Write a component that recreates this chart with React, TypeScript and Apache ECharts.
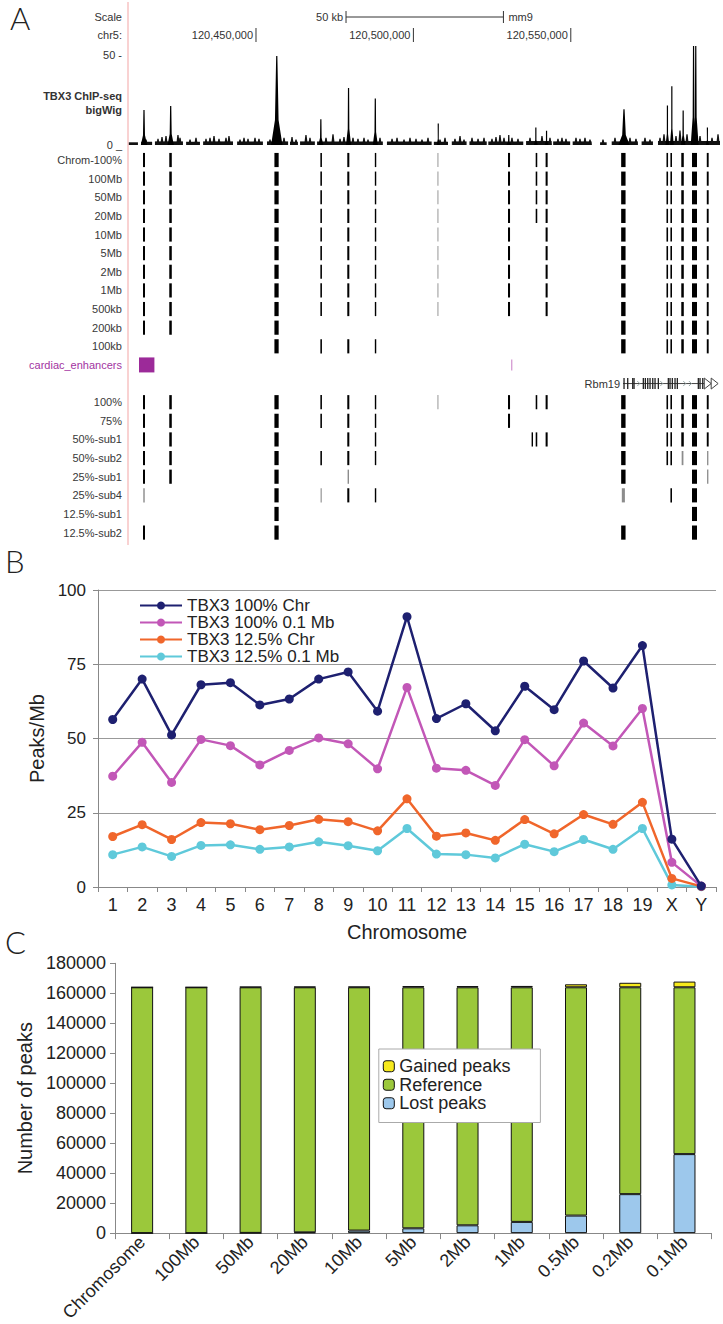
import React, { useEffect, useRef } from "react";
import * as echarts from "echarts";

// ---------- Panel A data (genomic positions in kb from chr5:120,400,000) ----------
const ORIGIN_BP = 120400000;
const X_MIN_KB = 9.34;
const X_MAX_KB = 197.4;
const POSITION_TICKS_KB = [50, 100, 150];
const SCALE_BAR_KB = [78.6, 128.6];

// ChIP-seq spikes: [centerKb, height, halfWidthKb]
const SIGNAL_PEAKS = [
  [14.42, 19.5, 1.0], [22.9, 21.6, 1.0], [56.6, 49.5, 1.8], [70.6, 14.3, 0.8],
  [79.4, 31.7, 0.8], [87.9, 25.8, 0.8], [107.9, 12, 0.5], [130.3, 5.5, 0.8],
  [138.9, 9.7, 0.6], [142.3, 7.9, 0.6], [166.9, 19.8, 1.8], [180.7, 22, 0.6],
  [182.1, 32.6, 0.6], [185.7, 19.2, 0.7], [189.0, 55, 0.9], [189.7, 55, 0.9],
  [193.4, 9.7, 0.5],
];
// background bumps: [kb, height]
const SIGNAL_BUMPS = [
  [15.06, 3], [18.87, 3.5], [20.14, 4.5], [21.41, 5], [25.22, 5.5], [25.86, 4], [29.04, 3],
  [30.94, 4], [34.12, 3.5], [35.39, 4], [36.66, 5], [38.25, 3.5], [40.47, 4], [41.42, 5],
  [44.92, 3], [46.19, 4], [47.46, 3.5], [49.68, 4], [50.95, 3.5], [54.45, 3], [58.9, 4],
  [61.44, 4.5], [62.71, 3], [65.88, 5.5], [67.15, 4], [72.24, 4], [74.46, 6], [76.7, 3.5],
  [77.95, 4.5], [80.81, 4], [82.4, 3.5], [84.31, 4], [85.58, 3], [89.39, 4], [93.21, 3.5],
  [94.8, 4], [97.02, 3], [98.92, 4], [100.83, 3.5], [102.73, 3], [104.64, 4], [108.45, 3],
  [110.04, 4], [113.21, 3.5], [114.81, 5], [116.08, 3], [118.62, 4], [120.53, 3.5],
  [122.43, 4], [124.97, 3.5], [126.24, 4.5], [127.51, 5.5], [128.78, 4], [131.32, 4],
  [133.23, 3.5], [137.04, 4], [140.85, 5], [143.39, 4], [145.93, 3.5], [147.2, 4],
  [148.47, 3.5], [151.65, 4], [152.92, 3.5], [154.51, 4], [156.1, 3], [160.23, 3],
  [164.04, 4], [168.81, 4], [170.71, 3.5], [173.57, 4], [175.16, 3], [178.34, 4],
  [179.61, 6], [183.42, 5], [184.69, 8], [186.92, 6], [191.05, 5], [194.86, 4], [196.77, 6],
];
// noise floor: [startKb, endKb, height]
const SIGNAL_FLOOR = [
  [9.6, 12.5, 1.5], [13.5, 17.0, 1.8], [17.9, 26.8, 2], [27.8, 32.2, 1.8], [33.2, 42.7, 2],
  [44.0, 52.2, 2], [53.5, 60.2, 2], [60.8, 63.3, 1.8], [64.0, 68.7, 2], [69.4, 90.3, 2],
  [91.6, 105.8, 2], [106.5, 111.0, 1.8], [112.2, 116.9, 2], [117.8, 123.3, 2],
  [123.8, 134.9, 2], [135.8, 143.9, 2.2], [144.4, 149.8, 2], [150.6, 156.6, 2],
  [159.3, 161.4, 1.5], [163.0, 171.3, 2], [172.5, 176.1, 2], [177.7, 197.4, 2.2],
];

// called peaks: [startKb, endKb]
const PEAKS = [
  [14.1, 14.75], [22.45, 23.25], [55.85, 57.2], [70.45, 70.95], [79.0, 79.65],
  [87.75, 88.2], [107.65, 107.95], [130.05, 130.7], [138.85, 139.35], [142.0, 142.65],
  [166.0, 167.4], [180.4, 180.9], [181.65, 182.15], [185.1, 185.9], [188.5, 190.1],
  [193.2, 193.8], [137.55, 138.0],
];

const TRACK_LABELS = [
  "Chrom-100%", "100Mb", "50Mb", "20Mb", "10Mb", "5Mb", "2Mb", "1Mb", "500kb", "200kb",
  "100kb", "cardiac_enhancers", "Rbm19", "100%", "75%", "50%-sub1", "50%-sub2",
  "25%-sub1", "25%-sub4", "12.5%-sub1", "12.5%-sub2",
];
const ALL16 = [0, 1, 2, 3, 4, 5, 6, 7, 8, 9, 10, 11, 12, 13, 14, 15];
const NO8 = [0, 1, 2, 3, 4, 5, 6, 7, 9, 10, 11, 12, 13, 14, 15];
const TRACK_PEAKS: number[][] = [
  ALL16, ALL16, ALL16, ALL16, NO8, NO8, NO8, NO8, NO8,
  [0, 1, 2, 10, 11, 12, 13, 14, 15],
  [2, 3, 4, 5, 10, 11, 12, 13, 14, 15],
  [], [],
  ALL16,
  [0, 1, 2, 3, 4, 5, 7, 10, 11, 12, 13, 14, 15],
  [0, 1, 2, 4, 5, 16, 8, 9, 10, 11, 12, 13, 14, 15],
  [0, 1, 2, 3, 4, 5, 10, 11, 12, 13, 14, 15],
  [0, 1, 2, 4, 10, 14, 15],
  [0, 2, 3, 4, 5, 10, 12, 14],
  [2, 14],
  [0, 2, 10, 14],
];
const TRACK_FAINT: number[][] = [
  [6], [6], [6], [6], [6], [6], [6], [6], [6], [], [], [], [], [6], [], [],
  [13, 15], [4, 15], [0, 3, 10], [], [],
];
const ENHANCERS = [[12.83, 17.73, 0], [131.1, 131.4, 1]];
const GENE = [166.6, 196.8];
const GENE_EXONS = [
  166.9, 168.07, 169.66, 170.08, 173.03, 173.67, 174.43, 175.16, 176.02, 176.75, 177.8,
  180.97, 181.51, 182.24, 183.1, 183.83, 190.5, 191.04, 191.9,
];
const GENE_INTRON_ARROWS = [171.6, 178.9, 186.2, 188.0];
const GENE_END_ARROWS = [[192.4, 194.6], [194.6, 196.8]];

// ---------- Panel B data ----------
const CHROMS = ["1","2","3","4","5","6","7","8","9","10","11","12","13","14","15","16","17","18","19","X","Y"];
const B_100_CHR = [56.4, 70.0, 51.2, 68.1, 68.8, 61.3, 63.3, 70.0, 72.4, 59.2, 91.0, 56.7, 61.7, 52.6, 67.6, 59.7, 76.1, 67.0, 81.3, 16.1, 0.3];
const B_100_01 = [37.3, 48.7, 35.2, 49.7, 47.6, 41.1, 46.0, 50.2, 48.2, 39.8, 67.2, 40.0, 39.3, 34.2, 49.6, 40.8, 55.2, 47.5, 60.1, 8.3, 0.3];
const B_125_CHR = [17.0, 21.0, 16.0, 21.7, 21.3, 19.3, 20.7, 22.8, 22.0, 18.9, 29.7, 17.1, 18.2, 15.7, 22.7, 17.9, 24.4, 21.1, 28.5, 2.9, 0.2];
const B_125_01 = [10.9, 13.5, 10.3, 14.0, 14.2, 12.7, 13.5, 15.2, 13.9, 12.2, 19.7, 11.1, 10.9, 9.8, 14.4, 11.9, 16.0, 12.7, 19.7, 0.7, 0.1];
const B_NAMES = ["TBX3 100% Chr", "TBX3 100% 0.1 Mb", "TBX3 12.5% Chr", "TBX3 12.5% 0.1 Mb"];
const B_COLORS = ["#1e2070", "#c257b7", "#f0662b", "#5fc9da"];

// ---------- Panel C data ----------
const RESOLUTIONS = ["Chromosome", "100Mb", "50Mb", "20Mb", "10Mb", "5Mb", "2Mb", "1Mb", "0.5Mb", "0.2Mb", "0.1Mb"];
const C_LOST = [0, 0, 150, 500, 1700, 3200, 5200, 7500, 11700, 26000, 52700];
const C_REFERENCE = [164000, 164000, 163850, 163500, 162300, 160800, 158800, 156500, 152300, 138000, 111300];
const C_GAINED = [0, 0, 300, 400, 400, 800, 800, 900, 2000, 3000, 3800];

const FONT = "Liberation Sans, Arial, Helvetica, sans-serif";

function buildTrackData() {
  const out: number[][] = [];
  TRACK_PEAKS.forEach((list, row) => {
    list.forEach((idx) => {
      const p = PEAKS[idx];
      out.push([p[0], p[1], row, TRACK_FAINT[row].includes(idx) ? 1 : 0]);
    });
  });
  return out;
}

function fmtPos(kb: number) {
  return Math.round(ORIGIN_BP + kb * 1000).toLocaleString("en-US");
}

export default function App() {
  const ref = useRef<HTMLDivElement>(null);
  useEffect(() => {
    if (!ref.current) return;
    const chart = echarts.init(ref.current, null, { renderer: "svg" });
    const txt = (text: string, x: number, y: number, o: any = {}) => ({
      type: "text",
      x,
      y,
      style: { text, fontFamily: FONT, fontSize: 11, fill: "#333", align: "right", verticalAlign: "middle", ...o },
    });

    const option: any = {
      animation: false,
      backgroundColor: "#fff",
      textStyle: { fontFamily: FONT },
      grid: [
        { left: 128, top: 46, width: 592, height: 99 },
        { left: 128, top: 150.7, width: 592, height: 391.2 },
        { left: 98, top: 590, width: 618, height: 297 },
        { left: 115, top: 963.3, width: 596.6, height: 270 },
      ],
      xAxis: [
        { gridIndex: 0, type: "value", min: X_MIN_KB, max: X_MAX_KB, show: false },
        { gridIndex: 1, type: "value", min: X_MIN_KB, max: X_MAX_KB, show: false },
        {
          gridIndex: 2, type: "category", data: CHROMS,
          axisLine: { lineStyle: { color: "#888" } },
          axisTick: { show: true, length: 5, lineStyle: { color: "#888" } },
          axisLabel: { fontSize: 18, color: "#222", margin: 9, interval: 0 },
          name: "Chromosome", nameLocation: "middle", nameGap: 35,
          nameTextStyle: { fontSize: 20, color: "#222" },
        },
        {
          gridIndex: 3, type: "category", data: RESOLUTIONS,
          axisLine: { lineStyle: { color: "#888" } },
          axisTick: { show: true, length: 6, lineStyle: { color: "#888" } },
          axisLabel: { fontSize: 18, color: "#222", margin: 6, interval: 0, rotate: 45 },
        },
      ],
      yAxis: [
        {
          gridIndex: 0, type: "value", min: 0, max: 55, interval: 50,
          axisLine: { show: false }, axisTick: { show: false }, splitLine: { show: false },
          axisLabel: {
            margin: 6, fontSize: 11, color: "#333",
            formatter: (v: number) => (v === 50 ? "50 -" : v === 0 ? "0 _" : ""),
          },
        },
        {
          gridIndex: 1, type: "category", inverse: true,
          data: TRACK_LABELS.map((l, i) =>
            i === 11 ? { value: l, textStyle: { color: "#a2339f" } } : l
          ),
          axisLine: { show: false }, axisTick: { show: false }, splitLine: { show: false },
          axisLabel: {
            margin: 6, fontSize: 11, color: "#383838", interval: 0,
            formatter: (v: string) => (v === "Rbm19" ? "" : v),
          },
        },
        {
          gridIndex: 2, type: "value", min: 0, max: 100, interval: 25,
          axisLine: { show: true, lineStyle: { color: "#888" } },
          axisTick: { show: true, length: 5, lineStyle: { color: "#888" } },
          splitLine: { lineStyle: { color: "#999" } },
          axisLabel: { fontSize: 17, color: "#222", margin: 12 },
          name: "Peaks/Mb", nameLocation: "middle", nameGap: 49,
          nameTextStyle: { fontSize: 20, color: "#222" },
        },
        {
          gridIndex: 3, type: "value", min: 0, max: 180000, interval: 20000,
          axisLine: { show: true, lineStyle: { color: "#888" } },
          axisTick: { show: true, length: 5, lineStyle: { color: "#888" } },
          splitLine: { show: false },
          axisLabel: { fontSize: 18, color: "#222", margin: 9, formatter: (v: number) => String(v) },
          name: "Number of peaks", nameLocation: "middle", nameGap: 69,
          nameTextStyle: { fontSize: 20, color: "#222" },
        },
      ],
      legend: [
        {
          data: B_NAMES, orient: "vertical", left: 134, top: 592,
          itemWidth: 42, itemHeight: 10, itemGap: 0,
          textStyle: { fontSize: 17, color: "#222", lineHeight: 15.5 },
        },
        {
          data: ["Gained peaks", "Reference", "Lost peaks"], orient: "vertical",
          left: 378.8, top: 1049, itemWidth: 11, itemHeight: 11, itemGap: 0,
          padding: [8, 30, 10, 4], backgroundColor: "#fff", borderColor: "#aaa", borderWidth: 1,
          itemStyle: { borderColor: "#111", borderWidth: 1 },
          textStyle: { fontSize: 18, color: "#222", lineHeight: 18.5 },
        },
      ],
      graphic: [
        { type: "line", shape: { x1: 128, y1: 2, x2: 128, y2: 545 }, style: { stroke: "#f3a5a5", lineWidth: 1 } },
        txt("Scale", 122, 17),
        txt("chr5:", 122, 35),
        txt("TBX3 ChIP-seq", 122, 96, { fontWeight: "bold" }),
        txt("bigWig", 122, 110, { fontWeight: "bold" }),
        txt("A", 10, 2, { fontSize: 31, align: "left", verticalAlign: "top", fill: "#222", fontFamily: "Lato, Open Sans, sans-serif", fontWeight: 300 }),
        txt("B", 5, 545, { fontSize: 31, align: "left", verticalAlign: "top", fill: "#222", fontFamily: "Lato, Open Sans, sans-serif", fontWeight: 300 }),
        txt("C", 5, 926, { fontSize: 31, align: "left", verticalAlign: "top", fill: "#222", fontFamily: "Lato, Open Sans, sans-serif", fontWeight: 300 }),
      ],
      series: [
        // scale bar
        {
          type: "custom", xAxisIndex: 0, yAxisIndex: 0, silent: true, data: [SCALE_BAR_KB],
          renderItem: (params: any, api: any) => {
            const x1 = api.coord([api.value(0), 0])[0];
            const x2 = api.coord([api.value(1), 0])[0];
            const y = 17;
            return {
              type: "group",
              children: [
                { type: "line", shape: { x1, y1: y, x2, y2: y }, style: { stroke: "#333", lineWidth: 1 } },
                { type: "line", shape: { x1, y1: y - 6, x2: x1, y2: y + 6 }, style: { stroke: "#333", lineWidth: 1 } },
                { type: "line", shape: { x1: x2, y1: y - 6, x2, y2: y + 6 }, style: { stroke: "#333", lineWidth: 1 } },
                { type: "text", x: x1 - 3, y, style: { text: "50 kb", align: "right", verticalAlign: "middle", fontSize: 11, fontFamily: FONT, fill: "#333" } },
                { type: "text", x: x2 + 5, y, style: { text: "mm9", align: "left", verticalAlign: "middle", fontSize: 11, fontFamily: FONT, fill: "#333" } },
              ],
            };
          },
        },
        // position ticks
        {
          type: "custom", xAxisIndex: 0, yAxisIndex: 0, silent: true,
          data: POSITION_TICKS_KB.map((v) => [v]),
          renderItem: (params: any, api: any) => {
            const kb = api.value(0);
            const x = api.coord([kb, 0])[0];
            return {
              type: "group",
              children: [
                { type: "line", shape: { x1: x, y1: 28, x2: x, y2: 42 }, style: { stroke: "#333", lineWidth: 1 } },
                { type: "text", x: x - 3, y: 35, style: { text: fmtPos(kb), align: "right", verticalAlign: "middle", fontSize: 11, fontFamily: FONT, fill: "#333" } },
              ],
            };
          },
        },
        // signal floor
        {
          type: "custom", xAxisIndex: 0, yAxisIndex: 0, silent: true, data: SIGNAL_FLOOR,
          renderItem: (params: any, api: any) => {
            const a = api.coord([api.value(0), 0]);
            const b = api.coord([api.value(1), api.value(2)]);
            return { type: "rect", shape: { x: a[0], y: b[1], width: b[0] - a[0], height: a[1] - b[1] }, style: { fill: "#111" } };
          },
        },
        // signal bumps
        {
          type: "custom", xAxisIndex: 0, yAxisIndex: 0, silent: true, data: SIGNAL_BUMPS,
          renderItem: (params: any, api: any) => {
            const c = api.value(0), h = api.value(1);
            const base = api.coord([c, 0]);
            const top = api.coord([c, h]);
            return {
              type: "polygon",
              shape: { points: [[base[0] - 1.8, base[1]], [base[0] - 0.6, top[1]], [base[0] + 0.6, top[1]], [base[0] + 1.8, base[1]]] },
              style: { fill: "#111" },
            };
          },
        },
        // signal peaks
        {
          type: "custom", xAxisIndex: 0, yAxisIndex: 0, silent: true, data: SIGNAL_PEAKS,
          renderItem: (params: any, api: any) => {
            const c = api.value(0), h = api.value(1), w = api.value(2);
            const base = api.coord([c, 0]);
            const top = api.coord([c, h]);
            const l = api.coord([c - w, 0])[0];
            const r = api.coord([c + w, 0])[0];
            const xi = (r - l) * 0.16;
            const ym = base[1] - (base[1] - top[1]) * 0.28;
            return {
              type: "polygon",
              shape: {
                points: [[l, base[1]], [base[0] - xi, ym], [base[0] - 0.6, top[1]], [base[0] + 0.6, top[1]], [base[0] + xi, ym], [r, base[1]]],
              },
              style: { fill: "#000" },
            };
          },
        },
        // peak tracks
        {
          type: "custom", xAxisIndex: 1, yAxisIndex: 1, silent: true, data: buildTrackData(),
          renderItem: (params: any, api: any) => {
            const row = api.value(2);
            const p1 = api.coord([api.value(0), row]);
            const p2 = api.coord([api.value(1), row]);
            const h = api.size([0, 1])[1] * 0.76;
            const faint = api.value(3) === 1;
            const w = Math.max(p2[0] - p1[0], 1.3) * (faint ? 0.7 : 1);
            return {
              type: "rect",
              shape: { x: (p1[0] + p2[0]) / 2 - w / 2, y: p1[1] - h / 2, width: w, height: h },
              style: { fill: faint ? "#8c8c8c" : "#000" },
            };
          },
        },
        // cardiac enhancers
        {
          type: "custom", xAxisIndex: 1, yAxisIndex: 1, silent: true,
          data: ENHANCERS.map((e) => [e[0], e[1], 11, e[2]]),
          renderItem: (params: any, api: any) => {
            const row = api.value(2);
            const p1 = api.coord([api.value(0), row]);
            const p2 = api.coord([api.value(1), row]);
            const thin = api.value(3) === 1;
            const h = thin ? 11 : 15;
            const w = Math.max(p2[0] - p1[0], 1);
            return {
              type: "rect",
              shape: { x: p1[0], y: p1[1] - h / 2, width: w, height: h },
              style: { fill: thin ? "#c77bc4" : "#9c2a99" },
            };
          },
        },
        // gene Rbm19
        {
          type: "custom", xAxisIndex: 1, yAxisIndex: 1, silent: true,
          data: [[GENE[0], GENE[1], 12]],
          renderItem: (params: any, api: any) => {
            const row = api.value(2);
            const p0 = api.coord([api.value(0), row]);
            const p1 = api.coord([api.value(1), row]);
            const y = p0[1];
            const children: any[] = [];
            children.push({ type: "line", shape: { x1: p0[0], y1: y, x2: p1[0] - 6, y2: y }, style: { stroke: "#444", lineWidth: 1 } });
            GENE_INTRON_ARROWS.forEach((kb) => {
              const x = api.coord([kb, row])[0];
              children.push({ type: "polyline", shape: { points: [[x - 1.5, y - 2.5], [x + 1, y], [x - 1.5, y + 2.5]] }, style: { stroke: "#9aa", fill: null, lineWidth: 1 } });
            });
            GENE_EXONS.forEach((kb) => {
              const x = api.coord([kb, row])[0];
              children.push({ type: "rect", shape: { x: x - 0.6, y: y - 5.5, width: 1.3, height: 11 }, style: { fill: "#222" } });
            });
            GENE_END_ARROWS.forEach((seg) => {
              const xa = api.coord([seg[0], row])[0];
              const xb = api.coord([seg[1], row])[0];
              children.push({ type: "polygon", shape: { points: [[xa, y - 5.5], [xb, y], [xa, y + 5.5]] }, style: { fill: "#fff", stroke: "#444", lineWidth: 1 } });
            });
            children.push({ type: "text", x: p0[0] - 3, y, style: { text: "Rbm19", align: "right", verticalAlign: "middle", fontSize: 11, fontFamily: FONT, fill: "#333" } });
            return { type: "group", children };
          },
        },
        // Panel B lines
        ...[B_100_CHR, B_100_01, B_125_CHR, B_125_01].map((d, i) => ({
          type: "line", name: B_NAMES[i], xAxisIndex: 2, yAxisIndex: 2, data: d,
          symbol: "circle", symbolSize: 9, color: B_COLORS[i],
          itemStyle: { color: B_COLORS[i] },
          lineStyle: { color: B_COLORS[i], width: 2.5 },
          z: 10 - i,
        })),
        // Panel C bars
        {
          type: "bar", name: "Lost peaks", xAxisIndex: 3, yAxisIndex: 3, stack: "c", data: C_LOST,
          barWidth: 22, itemStyle: { color: "#9dc8ec", borderColor: "#111", borderWidth: 1 },
        },
        {
          type: "bar", name: "Reference", xAxisIndex: 3, yAxisIndex: 3, stack: "c", data: C_REFERENCE,
          barWidth: 22, itemStyle: { color: "#9bc83b", borderColor: "#111", borderWidth: 1 },
        },
        {
          type: "bar", name: "Gained peaks", xAxisIndex: 3, yAxisIndex: 3, stack: "c", data: C_GAINED,
          barWidth: 22, itemStyle: { color: "#f7ea1c", borderColor: "#111", borderWidth: 1 },
        },
      ],
    };
    chart.setOption(option);
    return () => chart.dispose();
  }, []);
  return (
    <div
      ref={ref}
      style={{ position: "absolute", left: 0, top: 0, width: 723, height: 1324, background: "#fff" }}
    />
  );
}
